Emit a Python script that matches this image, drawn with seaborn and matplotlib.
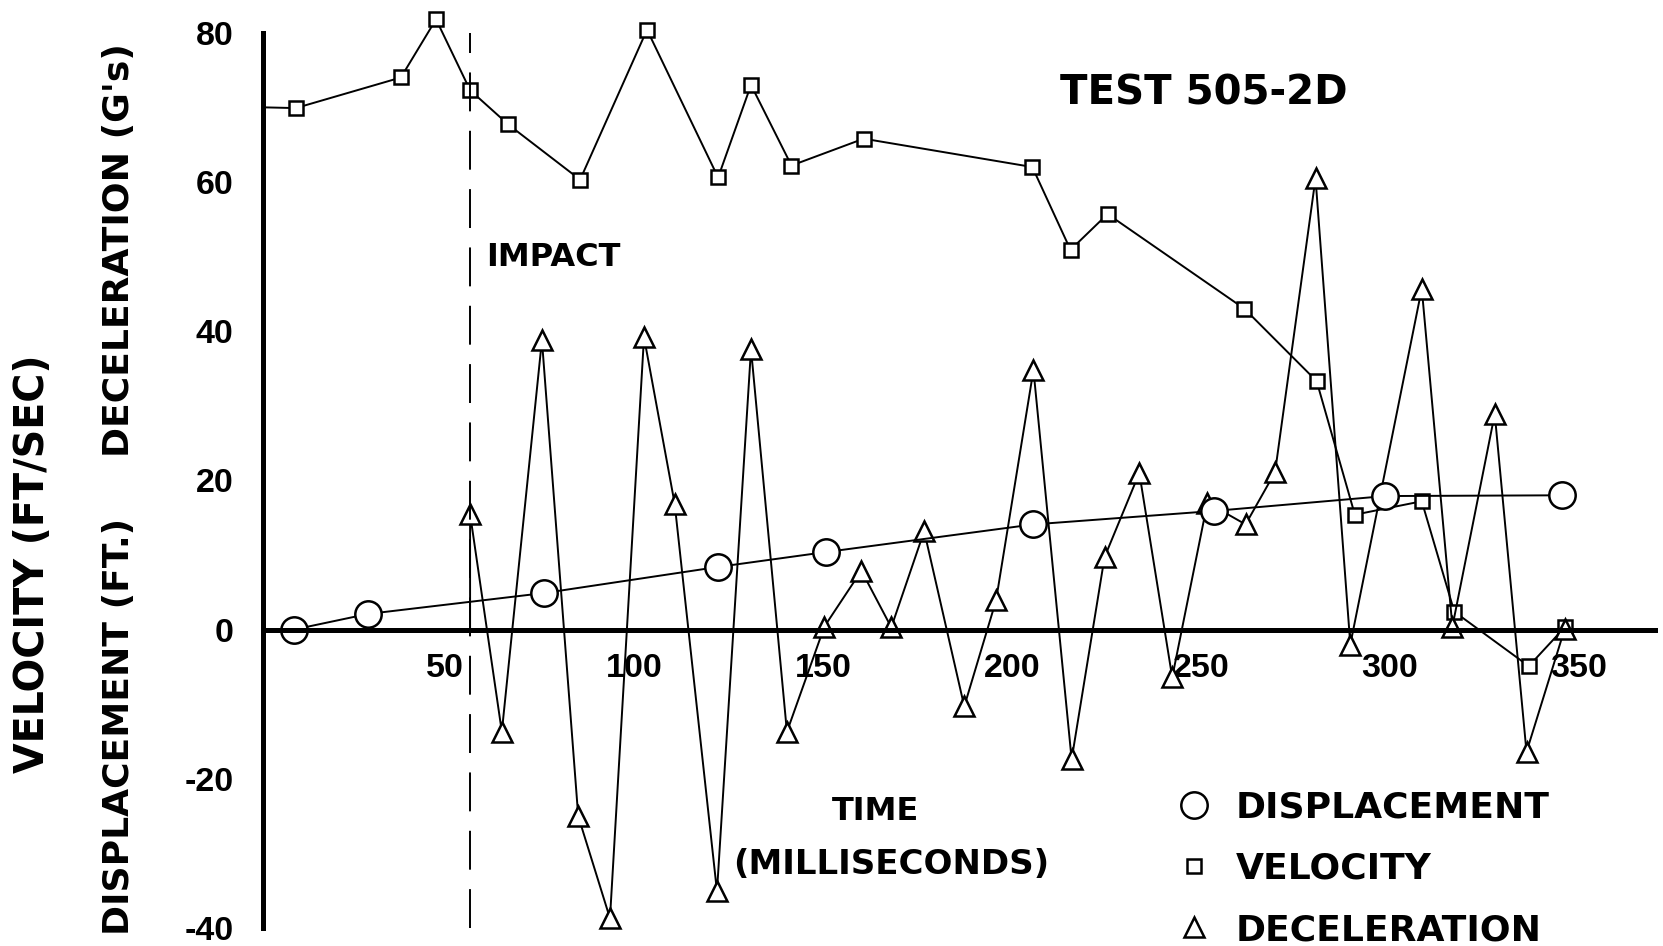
import matplotlib
matplotlib.use("Agg")
import matplotlib.pyplot as plt
from matplotlib.lines import Line2D
import seaborn as sns

# values (time in milliseconds)
vel_time = [2, 10.6, 38.4, 47.7, 56.7, 66.8, 85.8, 103.5, 122.3, 131.0, 141.7,
            160.8, 205.4, 215.5, 225.3, 261.5, 280.6, 290.7, 308.4, 317.0, 336.7, 346.2]
velocity = [70.0, 69.9, 74.0, 81.8, 72.3, 67.7, 60.3, 80.4, 60.6, 73.0, 62.2,
            65.8, 62.0, 50.9, 55.7, 43.0, 33.3, 15.4, 17.2, 2.4, -4.9, 0.3]

disp_time = [10.1, 29.7, 76.3, 122.3, 150.9, 205.7, 253.4, 298.8, 345.4]
displacement = [0.0, 2.1, 4.9, 8.4, 10.4, 14.1, 15.9, 17.9, 18.0]

decel_time = [56.7, 56.7, 65.1, 75.7, 85.3, 93.7, 102.7, 110.8, 122.0, 131.0, 140.5,
              150.4, 160.2, 168.1, 176.8, 187.4, 195.8, 205.7, 215.8, 224.5, 233.7,
              242.4, 251.7, 261.8, 269.6, 280.3, 289.5, 308.4, 316.5, 327.7, 336.1, 346.2]
deceleration = [0.0, 15.5, -13.7, 38.8, -25.0, -38.7, 39.2, 16.9, -35.1, 37.6, -13.7,
                0.4, 7.9, 0.3, 13.2, -10.3, 3.9, 34.8, -17.4, 9.7, 21.0,
                -6.4, 17.0, 14.1, 21.1, 60.5, -2.0, 45.7, 0.4, 28.9, -16.4, 0.1]

impact_time = 56.7
x_ticks = [50, 100, 150, 200, 250, 300, 350]
y_ticks = [-40, -20, 0, 20, 40, 60, 80]
legend_labels = ["DISPLACEMENT", "VELOCITY", "DECELERATION"]

sns.set_style("white")
plt.rcParams["font.family"] = ["DejaVu Sans"]
plt.rcParams["font.weight"] = "bold"
plt.rcParams["axes.unicode_minus"] = False
for key in ["text.color", "axes.labelcolor", "xtick.color", "ytick.color", "axes.edgecolor"]:
    plt.rcParams[key] = "black"

fig = plt.figure(figsize=(16.63, 9.46), dpi=100)
ax = fig.add_axes([0.1583, 0.0190, 0.8367, 0.9464])

line_kw = dict(color="black", linewidth=1.4, estimator=None, sort=False, ax=ax,
               legend=False, clip_on=False, markerfacecolor="white",
               markeredgecolor="black", markeredgewidth=1.8)

sns.lineplot(x=vel_time, y=velocity, marker="s", markersize=9.5,
             markevery=list(range(1, len(vel_time))), **line_kw)
sns.lineplot(x=decel_time, y=deceleration, marker="^", markersize=14,
             markevery=list(range(1, len(decel_time))), **line_kw)
sns.lineplot(x=disp_time, y=displacement, marker="o", markersize=19, **line_kw)

ax.axvline(impact_time, color="black", linewidth=1.4, linestyle=(0, (20, 10)))

ax.set_xlim(2, 370)
ax.set_ylim(-40, 80)
ax.set_xticks(x_ticks)
ax.set_yticks(y_ticks)
ax.tick_params(axis="both", direction="inout", length=15, width=1.5, labelsize=24.5,
               labelfontfamily="Liberation Sans")
ax.tick_params(axis="y", pad=14)
ax.tick_params(axis="x", pad=9)
ax.spines["top"].set_visible(False)
ax.spines["right"].set_visible(False)
ax.spines["left"].set_linewidth(3.6)
ax.spines["bottom"].set_linewidth(3.6)
ax.spines["bottom"].set_position(("data", 0))
ax.set_xlabel("")
ax.set_ylabel("")

ax.text(250.8, 71.8, "TEST 505-2D", ha="center", va="center", fontsize=29)
ax.text(60.9, 49.9, "IMPACT", ha="left", va="center", fontsize=23)
ax.text(163.8, -24.4, "TIME", ha="center", va="center", fontsize=23)
ax.text(168.1, -31.5, "(MILLISECONDS)", ha="center", va="center", fontsize=24.5)

fig.text(0.0198, 0.404, "VELOCITY (FT/SEC)", rotation=90, ha="center", va="center", fontsize=28.5)
fig.text(0.0714, 0.736, "DECELERATION (G's)", rotation=90, ha="center", va="center", fontsize=26)
fig.text(0.0714, 0.2317, "DISPLACEMENT (FT.)", rotation=90, ha="center", va="center", fontsize=26)

handles = [
    Line2D([], [], ls="none", marker="o", markersize=19, markerfacecolor="white",
           markeredgecolor="black", markeredgewidth=1.8),
    Line2D([], [], ls="none", marker="s", markersize=9.5, markerfacecolor="white",
           markeredgecolor="black", markeredgewidth=1.8),
    Line2D([], [], ls="none", marker="^", markersize=15, markerfacecolor="white",
           markeredgecolor="black", markeredgewidth=1.8),
]
ax.legend(handles, legend_labels, loc="upper left", bbox_to_anchor=(0.705, 0.164),
          bbox_transform=fig.transFigure, frameon=False, fontsize=26,
          handlelength=1.2, handletextpad=0.55, labelspacing=0.75,
          borderpad=0, borderaxespad=0)

fig.savefig("out.png", dpi=100)
